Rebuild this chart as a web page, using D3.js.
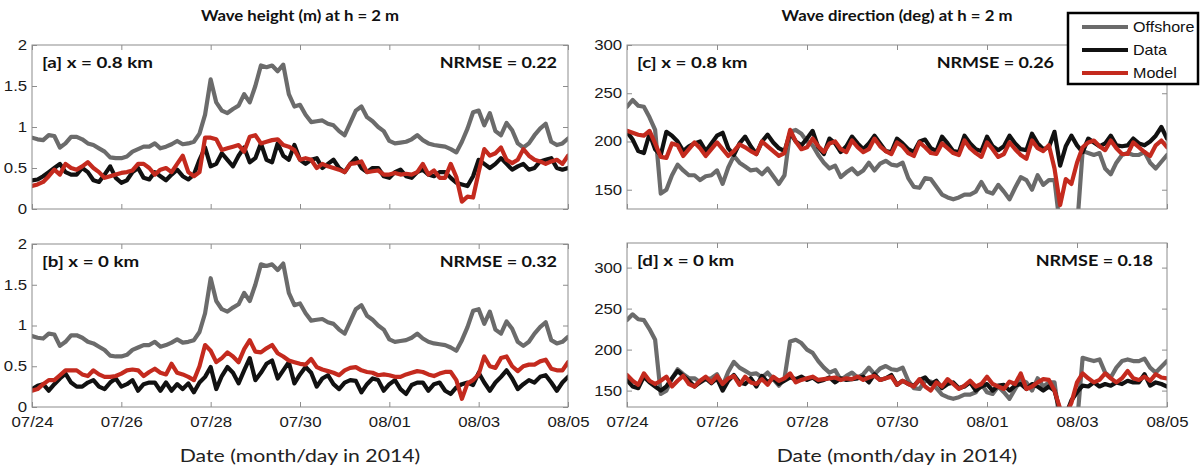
<!DOCTYPE html>
<html><head><meta charset="utf-8">
<script src="https://cdn.jsdelivr.net/npm/d3@7"></script>
<style>html,body{margin:0;padding:0;background:#fff}svg{display:block}</style>
</head><body>
<script>
// ---------- data (3-hourly samples from 2014-07-24 00:00 to 2014-08-05 00:00) ----------
const startDay = "07/24/2014";
const endDay = "08/05/2014";
const stepHours = 3;
const tickLabels = ["07/24","07/26","07/28","07/30","08/01","08/03","08/05"];
const seriesNames = ["Offshore","Data","Model"];

const hsOffshore = [0.87,0.85,0.84,0.9,0.89,0.75,0.8,0.88,0.88,0.85,
0.8,0.78,0.74,0.7,0.63,0.62,0.62,0.64,0.7,0.73,
0.76,0.76,0.8,0.74,0.76,0.79,0.83,0.79,0.8,0.82,
0.92,1.15,1.58,1.3,1.2,1.17,1.22,1.26,1.4,1.3,
1.5,1.75,1.73,1.75,1.68,1.76,1.4,1.25,1.27,1.15,
1.06,1.07,1.08,1.04,1.02,0.95,0.9,1.05,1.2,1.25,
1.12,1.07,1.0,0.95,0.83,0.8,0.81,0.82,0.85,0.9,
0.84,0.8,0.78,0.77,0.76,0.73,0.69,0.82,0.98,1.18,
1.2,1.02,1.17,0.95,0.9,1.05,0.96,0.8,0.75,0.8,
0.9,0.98,1.04,0.82,0.78,0.8,0.86];

const hsDataA = [0.35,0.36,0.4,0.45,0.5,0.55,0.45,0.42,0.42,0.5,
0.45,0.35,0.33,0.42,0.52,0.38,0.32,0.35,0.45,0.5,
0.38,0.36,0.45,0.4,0.35,0.42,0.48,0.4,0.36,0.42,
0.6,0.75,0.52,0.55,0.68,0.6,0.52,0.65,0.75,0.57,
0.62,0.8,0.6,0.57,0.8,0.65,0.6,0.78,0.6,0.55,
0.6,0.62,0.5,0.55,0.6,0.5,0.45,0.55,0.62,0.5,
0.45,0.5,0.5,0.4,0.38,0.45,0.48,0.4,0.38,0.45,
0.48,0.42,0.4,0.45,0.45,0.38,0.32,0.3,0.28,0.4,
0.6,0.55,0.5,0.55,0.62,0.55,0.48,0.52,0.55,0.48,
0.5,0.58,0.6,0.62,0.5,0.48,0.5];

const hsModelA = [0.28,0.3,0.33,0.4,0.48,0.42,0.55,0.5,0.48,0.52,
0.57,0.5,0.45,0.38,0.4,0.42,0.44,0.45,0.47,0.55,
0.55,0.5,0.42,0.48,0.5,0.45,0.55,0.65,0.45,0.4,
0.45,0.87,0.87,0.85,0.72,0.74,0.76,0.78,0.7,0.88,
0.9,0.8,0.82,0.84,0.85,0.78,0.76,0.72,0.6,0.62,
0.6,0.5,0.55,0.52,0.5,0.48,0.45,0.55,0.56,0.58,
0.45,0.46,0.47,0.42,0.42,0.44,0.42,0.43,0.42,0.45,
0.55,0.42,0.47,0.38,0.38,0.55,0.39,0.09,0.15,0.14,
0.45,0.73,0.65,0.68,0.75,0.6,0.56,0.6,0.73,0.65,
0.6,0.58,0.55,0.58,0.6,0.55,0.65];

const hsDataB = [0.22,0.26,0.28,0.2,0.28,0.35,0.41,0.3,0.25,0.25,
0.3,0.33,0.25,0.22,0.3,0.35,0.25,0.28,0.33,0.2,
0.28,0.3,0.3,0.2,0.3,0.2,0.28,0.22,0.29,0.18,
0.3,0.37,0.49,0.22,0.38,0.49,0.42,0.29,0.45,0.6,
0.33,0.42,0.53,0.57,0.35,0.45,0.55,0.29,0.4,0.49,
0.42,0.25,0.35,0.39,0.28,0.22,0.3,0.33,0.32,0.18,
0.28,0.35,0.33,0.2,0.28,0.33,0.22,0.16,0.27,0.3,
0.3,0.2,0.28,0.3,0.2,0.16,0.24,0.28,0.3,0.27,
0.42,0.3,0.2,0.3,0.37,0.45,0.35,0.22,0.28,0.33,
0.3,0.37,0.39,0.3,0.2,0.3,0.37];

const hsModelB = [0.2,0.22,0.28,0.33,0.33,0.39,0.45,0.45,0.45,0.4,
0.38,0.45,0.4,0.37,0.37,0.38,0.41,0.45,0.46,0.45,
0.38,0.43,0.47,0.42,0.4,0.53,0.42,0.4,0.37,0.33,
0.5,0.76,0.69,0.55,0.6,0.67,0.62,0.55,0.71,0.82,
0.68,0.67,0.72,0.76,0.66,0.62,0.57,0.55,0.53,0.52,
0.59,0.49,0.46,0.44,0.42,0.39,0.45,0.48,0.49,0.45,
0.43,0.42,0.39,0.4,0.39,0.37,0.37,0.4,0.42,0.44,
0.43,0.4,0.38,0.41,0.43,0.43,0.33,0.1,0.29,0.33,
0.4,0.62,0.5,0.48,0.6,0.62,0.5,0.44,0.5,0.52,
0.52,0.56,0.58,0.47,0.45,0.45,0.55];

const dirOffshore = [236,243,237,236,225,212,146,150,165,176,
170,165,165,160,164,165,170,156,173,185,
178,174,170,171,166,172,164,156,165,210,
212,208,200,196,186,178,172,175,163,168,
172,166,170,178,170,177,180,176,175,178,
162,153,152,162,161,153,145,142,140,142,
145,145,148,158,148,146,155,148,140,152,
163,160,150,165,155,160,160,110,105,105,
110,190,188,186,188,172,166,178,186,188,
186,186,189,178,172,179,186];

const dirDataC = [210,202,190,188,208,192,186,210,206,200,
190,195,198,200,190,198,206,209,193,186,
198,205,195,187,200,207,199,193,190,209,
200,196,203,211,194,187,203,198,189,195,
205,198,192,198,206,198,190,189,203,198,
192,189,200,202,193,190,205,198,190,189,
206,198,192,190,205,195,191,195,206,198,
192,191,208,198,192,194,210,175,195,206,
196,189,203,199,195,198,206,196,195,196,
203,198,196,200,206,215,203];

const dirModelC = [211,209,207,206,211,198,184,183,198,196,
185,192,199,193,185,192,199,192,185,190,
197,194,190,187,200,195,190,185,188,212,
200,192,194,203,195,189,198,200,192,189,
201,194,189,192,203,195,190,187,199,195,
188,185,199,194,188,187,198,193,188,186,
201,193,188,184,199,192,184,187,199,192,
186,182,201,193,190,196,172,134,161,156,
178,194,199,201,195,191,201,193,187,187,
199,194,189,185,196,201,194];

const dirDataD = [163,155,153,167,160,155,150,155,165,174,
168,162,155,160,165,159,165,150,162,169,
160,158,165,155,168,160,165,158,162,166,
164,167,163,166,161,163,166,160,165,163,
164,165,167,160,170,163,165,169,157,162,
158,156,163,166,158,162,153,158,160,153,
155,160,150,155,158,150,156,157,150,156,
158,152,158,155,150,155,150,125,120,138,
148,156,155,160,155,158,156,160,158,162,
160,160,170,156,160,158,155];

const dirModelD = [169,162,157,171,162,158,162,167,155,162,
168,158,155,162,167,160,168,158,165,168,
157,167,160,158,164,157,167,162,165,171,
160,163,165,167,163,164,165,166,163,165,
164,167,163,166,168,163,165,167,157,162,
158,155,164,155,150,160,155,164,158,152,
156,162,155,158,167,158,155,152,161,158,
171,152,155,160,164,163,150,128,120,135,
160,171,165,160,163,171,165,160,165,174,
165,163,167,162,170,166,165];

// ---------- layout / style ----------
const W = 1201, H = 468;
const SX = 1.2; // horizontal stretch of the original figure's text
const colors = {Offshore:"#6b6b6b", Data:"#111111", Model:"#c42a1e"};
const frameColor = "#8c8c8c";
const lineW = 4.2;
const tickFont = "'Liberation Sans', Arial, sans-serif";
const labelFont = "Lato, 'Open Sans', sans-serif";

const parse = d3.utcParse("%m/%d/%Y");
const t0 = parse(startDay), t1 = parse(endDay);
const times = hsOffshore.map((_, i) => d3.utcHour.offset(t0, i * stepHours));
const tickDates = tickLabels.map(s => parse(s + "/2014"));

const panels = [
  {left:32, right:568, top:45, bottom:209, yDomain:[0,2], yTicks:[0,0.5,1,1.5,2],
   data:[hsOffshore, hsDataA, hsModelA], label:"[a] x = 0.8 km", nrmse:"NRMSE = 0.22", nrmseX:557, xLabels:false},
  {left:32, right:568, top:244, bottom:407, yDomain:[0,2], yTicks:[0,0.5,1,1.5,2],
   data:[hsOffshore, hsDataB, hsModelB], label:"[b] x = 0 km", nrmse:"NRMSE = 0.32", nrmseX:557, xLabels:true},
  {left:627, right:1167, top:45, bottom:209, yDomain:[130,300], yTicks:[150,200,250,300],
   data:[dirOffshore, dirDataC, dirModelC], label:"[c] x = 0.8 km", nrmse:"NRMSE = 0.26", nrmseX:1054, xLabels:false},
  {left:627, right:1167, top:243, bottom:407, yDomain:[130,330], yTicks:[150,200,250,300],
   data:[dirOffshore, dirDataD, dirModelD], label:"[d] x = 0 km", nrmse:"NRMSE = 0.18", nrmseX:1153, xLabels:true}
];

const svg = d3.select("body").append("svg").attr("width", W).attr("height", H);
svg.append("rect").attr("width", W).attr("height", H).attr("fill", "#fff");
const defs = svg.append("defs");

function txt(g, x, y, s, o) {
  return g.append("text")
    .attr("transform", `translate(${x},${y}) scale(${o.sx || SX},1)`)
    .attr("text-anchor", o.anchor || "start")
    .attr("font-family", o.family || labelFont)
    .attr("font-size", o.size)
    .attr("font-weight", o.weight || "normal")
    .attr("fill", o.fill || "#111")
    .text(s);
}

panels.forEach((p, pi) => {
  const g = svg.append("g");
  const x = d3.scaleUtc().domain([t0, t1]).range([p.left, p.right]);
  const y = d3.scaleLinear().domain(p.yDomain).range([p.bottom, p.top]);

  const cid = "clip" + pi;
  defs.append("clipPath").attr("id", cid).append("rect")
    .attr("x", p.left).attr("y", p.top).attr("width", p.right - p.left).attr("height", p.bottom - p.top);

  // axes (inward ticks, MATLAB style)
  const styleAxis = sel => {
    sel.select(".domain").remove();
    sel.selectAll(".tick line").attr("stroke", frameColor).attr("stroke-width", 1);
    sel.selectAll(".tick text").attr("fill", "#1a1a1a").attr("font-family", tickFont).attr("font-size", 14);
  };
  const xb = g.append("g").attr("transform", `translate(0,${p.bottom})`)
    .call(d3.axisBottom(x).tickValues(tickDates).tickSizeInner(-5).tickSizeOuter(0).tickPadding(10)
      .tickFormat((d, i) => p.xLabels ? tickLabels[i] : ""));
  styleAxis(xb);
  xb.selectAll(".tick text").attr("transform", `scale(${SX},1)`);
  const xt = g.append("g").attr("transform", `translate(0,${p.top})`)
    .call(d3.axisTop(x).tickValues(tickDates).tickSizeInner(-5).tickSizeOuter(0).tickFormat(""));
  styleAxis(xt);
  const yl = g.append("g").attr("transform", `translate(${p.left},0)`)
    .call(d3.axisLeft(y).tickValues(p.yTicks).tickSizeInner(-5).tickSizeOuter(0).tickPadding(4)
      .tickFormat(d => String(d)));
  styleAxis(yl);
  yl.selectAll(".tick text").attr("transform", `scale(${SX},1)`);
  const yr = g.append("g").attr("transform", `translate(${p.right},0)`)
    .call(d3.axisRight(y).tickValues(p.yTicks).tickSizeInner(-5).tickSizeOuter(0).tickFormat(""));
  styleAxis(yr);

  // series
  const line = d3.line().x((d, i) => x(times[i])).y(d => y(d));
  const lg = g.append("g").attr("clip-path", `url(#${cid})`);
  p.data.forEach((arr, si) => {
    lg.append("path").datum(arr).attr("d", line)
      .attr("fill", "none").attr("stroke", colors[seriesNames[si]])
      .attr("stroke-width", lineW).attr("stroke-linejoin", "round").attr("stroke-linecap", "round");
  });

  // frame
  g.append("rect").attr("x", p.left).attr("y", p.top)
    .attr("width", p.right - p.left).attr("height", p.bottom - p.top)
    .attr("fill", "none").attr("stroke", frameColor).attr("stroke-width", 1);

  // annotations
  txt(g, p.left + 10, p.top + 23, p.label, {size:15, weight:"bold", sx:1.25});
  txt(g, p.nrmseX, p.top + 23, p.nrmse, {size:15, weight:"bold", anchor:"end", sx:1.2});

  if (p.xLabels) {
    txt(g, (p.left + p.right) / 2, 462, "Date (month/day in 2014)", {size:18, anchor:"middle", sx:1.18, fill:"#222"});
  }
});

// column titles
txt(svg, 300, 21, "Wave height (m) at h = 2 m", {size:15.5, weight:"bold", anchor:"middle", sx:1.08});
txt(svg, 897, 21, "Wave direction (deg) at h = 2 m", {size:15.5, weight:"bold", anchor:"middle", sx:1.08});

// legend
const leg = svg.append("g");
leg.append("rect").attr("x", 1068).attr("y", 13).attr("width", 130).attr("height", 71)
  .attr("fill", "#fff").attr("stroke", "#000").attr("stroke-width", 2.5);
seriesNames.forEach((name, i) => {
  const yy = 27 + i * 23;
  leg.append("line").attr("x1", 1082).attr("x2", 1128).attr("y1", yy).attr("y2", yy)
    .attr("stroke", colors[name]).attr("stroke-width", lineW);
  txt(leg, 1133, yy + 5, name, {size:14, family:tickFont, sx:1.15});
});
</script>
</body></html>
